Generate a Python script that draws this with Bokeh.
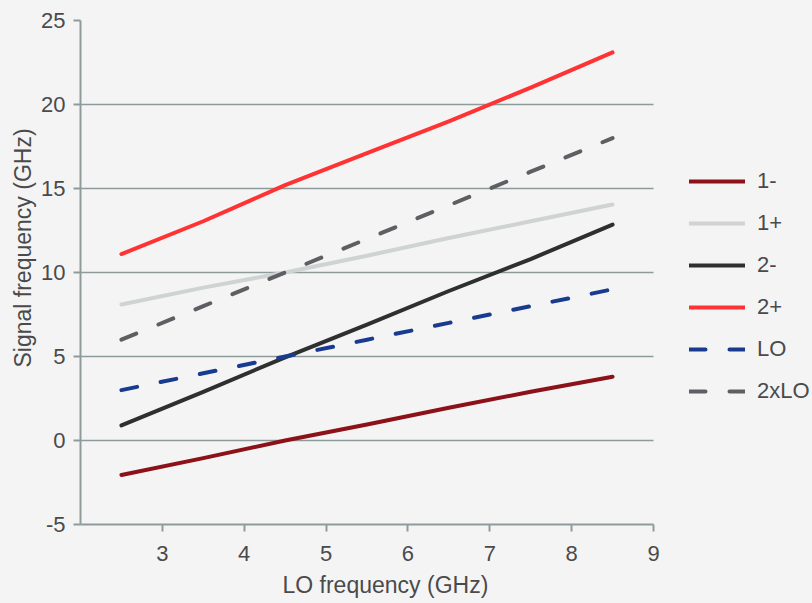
from bokeh.plotting import figure
from bokeh.models import Range1d, FixedTicker, Legend, LegendItem, Title
from bokeh.embed import file_html
from bokeh.resources import INLINE

# Data
lo = [2.5, 3.5, 4.5, 5.5, 6.5, 7.5, 8.5]
s1_minus = [-2.05, -1.05, 0.0, 0.95, 1.95, 2.9, 3.8]
s1_plus = [8.1, 9.1, 10.0, 11.0, 12.05, 13.05, 14.05]
s2_minus = [0.9, 2.9, 4.95, 6.9, 8.9, 10.8, 12.85]
s2_plus = [11.1, 13.05, 15.2, 17.1, 19.0, 21.0, 23.1]
lo_line = [3.0, 4.0, 5.0, 6.0, 7.0, 8.0, 9.0]
lo2_line = [6.0, 8.0, 10.0, 12.0, 14.0, 16.0, 18.0]

x_ticks = [3, 4, 5, 6, 7, 8, 9]
y_ticks = [-5, 0, 5, 10, 15, 20, 25]
labels = ["1-", "1+", "2-", "2+", "LO", "2xLO"]
x_axis_min, x_axis_max = 2, 9

BG = "#f4f4f4"
GRID = "#8d9b9b"
TEXT = "#4a4a4a"
FONT = "Liberation Sans"
FS = "22px"
FS_L = "23px"

# frame spans to the right edge so the legend can sit inside it; axis/grid are bounded to 2..9
p = figure(width=812, height=603, output_backend="svg", toolbar_location=None,
           x_range=Range1d(2, 10.9425), y_range=Range1d(-5, 25),
           min_border_left=80, min_border_right=0, min_border_top=20, min_border_bottom=79)
p.background_fill_color = BG
p.border_fill_color = BG
p.outline_line_color = None

p.xgrid.visible = False
p.ygrid.ticker = FixedTicker(ticks=y_ticks)
try:
    p.ygrid.cross_bounds = (x_axis_min, x_axis_max)
    p.ygrid.grid_line_color = GRID
    p.ygrid.grid_line_width = 1.5
except Exception:
    p.ygrid.visible = False
    p.segment(x0=[x_axis_min] * len(y_ticks), x1=[x_axis_max] * len(y_ticks),
              y0=y_ticks, y1=y_ticks, line_color=GRID, line_width=1.5)

p.xaxis.ticker = FixedTicker(ticks=x_ticks)
p.xaxis.bounds = (x_axis_min, x_axis_max)
p.yaxis.ticker = FixedTicker(ticks=y_ticks)
p.yaxis.major_label_overrides = {t: str(t) for t in y_ticks}
p.xaxis.major_label_overrides = {t: str(t) for t in x_ticks}
for ax in (p.xaxis, p.yaxis):
    ax.axis_line_color = GRID
    ax.axis_line_width = 2
    ax.major_tick_line_color = GRID
    ax.major_tick_line_width = 2
    ax.major_tick_out = 7
    ax.major_tick_in = 0
    ax.minor_tick_line_color = None
    ax.major_label_text_font = FONT
    ax.major_label_text_font_size = FS
    ax.major_label_text_color = TEXT

p.xaxis.major_label_standoff = 14
p.yaxis.major_label_standoff = 8

xtitle = Title(text="LO frequency (GHz)", align="left", offset=202, standoff=12,
               text_font=FONT, text_font_size=FS_L, text_color=TEXT, text_font_style="normal")
p.add_layout(xtitle, "below")
ytitle = Title(text="Signal frequency (GHz)", align="left", offset=157, standoff=5,
               text_font=FONT, text_font_size=FS_L, text_color=TEXT, text_font_style="normal")
p.add_layout(ytitle, "left")

series = [
    (s1_minus, "#8c1119", None),
    (s1_plus, "#cfd3d2", None),
    (s2_minus, "#2e3030", None),
    (s2_plus, "#ff3333", None),
    (lo_line, "#183b8f", "16 24"),
    (lo2_line, "#5f5f63", "16 24"),
]

items = []
for (ys, color, dash), lab in zip(series, labels):
    kw = dict(line_color=color, line_width=4, line_cap="round", line_join="round")
    if dash:
        kw["line_dash"] = dash
    r = p.line(lo, ys, **kw)
    items.append(LegendItem(label=lab, renderers=[r]))

legend = Legend(items=items, location=(609, 118))
legend.background_fill_alpha = 0
legend.border_line_color = None
legend.padding = 0
legend.margin = 0
legend.spacing = 12
legend.glyph_width = 56
legend.glyph_height = 30
legend.label_height = 30
legend.label_standoff = 12
legend.label_text_font = FONT
legend.label_text_font_size = FS
legend.label_text_color = TEXT
p.add_layout(legend, "center")

html = file_html(p, INLINE)
html = html.replace("<head>", "<head><style>body{background:#f4f4f4;}</style>", 1)
open("out.html", "w").write(html)
